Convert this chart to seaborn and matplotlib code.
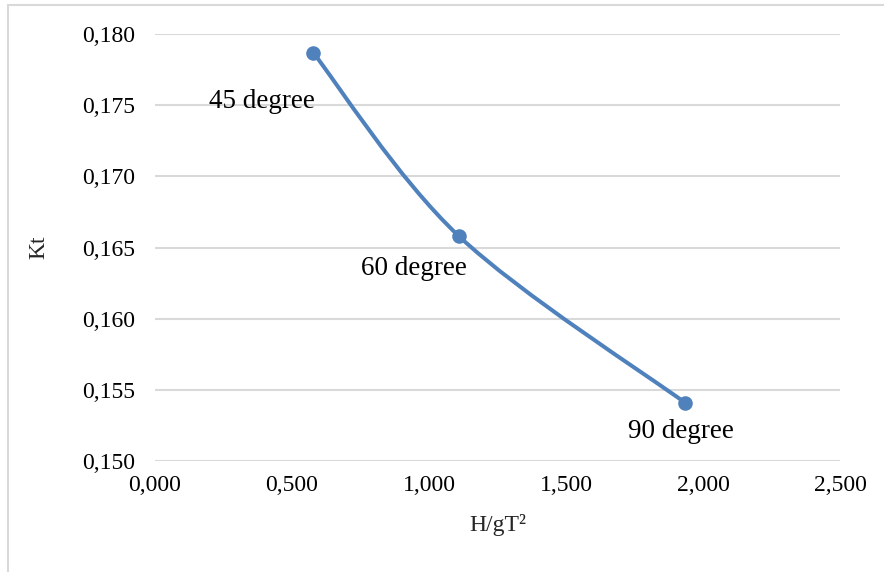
import numpy as np
import matplotlib
matplotlib.use("Agg")
import matplotlib.pyplot as plt
from matplotlib.path import Path
from matplotlib.patches import PathPatch, Rectangle
from matplotlib.ticker import FuncFormatter
import seaborn as sns

# data
h_gt2 = [0.577, 1.109, 1.934]
kt = [0.1787, 0.1658, 0.1541]
labels = ["45 degree", "60 degree", "90 degree"]
label_offsets = [(-37, -35), (-32, -23), (-3, -21)]

x_ticks = [0.0, 0.5, 1.0, 1.5, 2.0, 2.5]
y_ticks = [0.150, 0.155, 0.160, 0.165, 0.170, 0.175, 0.180]

sns.set_theme(style="white")
plt.rcParams['font.family'] = ['Liberation Serif', 'DejaVu Serif']

blue = "#4F81BD"
grid = "#D9D9D9"

fig = plt.figure(figsize=(8.84, 5.72), dpi=100)
ax = fig.add_axes([155 / 884, 1 - 461 / 572, (840 - 155) / 884, (461 - 34) / 572])

# smoothed line like Excel (Catmull-Rom through the points, as bezier)
pts = np.column_stack([h_gt2, kt])
ext = np.vstack([pts[0], pts, pts[-1]])
verts = [tuple(pts[0])]
codes = [Path.MOVETO]
for i in range(1, len(ext) - 2):
    p0, p1, p2, p3 = ext[i - 1], ext[i], ext[i + 1], ext[i + 2]
    c1 = p1 + (p2 - p0) / 6
    c2 = p2 - (p3 - p1) / 6
    verts += [tuple(c1), tuple(c2), tuple(p2)]
    codes += [Path.CURVE4] * 3
ax.add_patch(PathPatch(Path(verts, codes), facecolor="none", edgecolor=blue,
                       lw=2.9, capstyle="round", zorder=3))

sns.scatterplot(x=h_gt2, y=kt, ax=ax, color=blue, s=110, edgecolor=blue,
                linewidth=0, zorder=4)

for x, y, lab, off in zip(h_gt2, kt, labels, label_offsets):
    ax.annotate(lab, (x, y), xytext=off, textcoords="offset points",
                ha="center", va="center", fontsize=19.5, color="black")

ax.set_xlim(0, 2.5)
ax.set_ylim(0.150, 0.180)
ax.set_xticks(x_ticks)
ax.set_yticks(y_ticks)
ax.xaxis.set_major_formatter(FuncFormatter(lambda v, p: f"{v:.3f}".replace(".", ",")))
ax.yaxis.set_major_formatter(FuncFormatter(lambda v, p: f"{v:.3f}".replace(".", ",")))
ax.tick_params(axis="both", length=0, labelsize=17, colors="black")
ax.tick_params(axis="y", pad=14)
ax.tick_params(axis="x", pad=10)
ax.grid(axis="y", color=grid, lw=1.5)
ax.grid(axis="x", visible=False)
for s in ax.spines.values():
    s.set_visible(False)

ax.set_xlabel("H/gT²", fontsize=17, labelpad=13)
ax.set_ylabel("Kt", fontsize=17, labelpad=24)

# chart area border
fig.patches.append(Rectangle((8 / 884, -0.1), 1.2, 1 - 5 / 572 + 0.1,
                             transform=fig.transFigure, fill=False,
                             edgecolor=grid, lw=1.5))

fig.savefig("out.png", dpi=100)
